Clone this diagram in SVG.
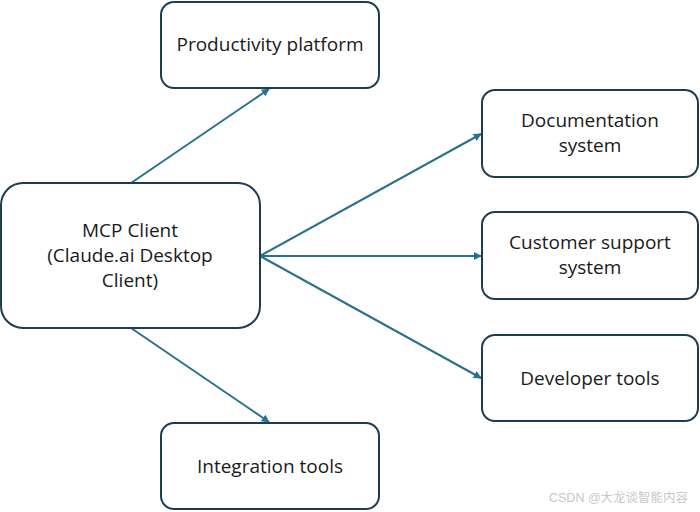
<svg xmlns="http://www.w3.org/2000/svg" width="700" height="512" viewBox="0 0 700 512">
<style>
.box{fill:#fff;stroke:#1e3c52;stroke-width:2}
.lbl{font-family:"Open Sans","Noto Sans",sans-serif;font-size:19px;fill:#1a1a1a;text-anchor:middle}
.edge{stroke:#2a7090;stroke-width:2;fill:none;marker-end:url(#ah)}
.wm{font-family:"Liberation Sans","Noto Sans CJK SC",sans-serif;font-size:12.5px;fill:#c8c8c8}
</style>
<defs>
<marker id="ah" viewBox="0 0 10 10" refX="9" refY="5" markerWidth="4" markerHeight="4" orient="auto" markerUnits="strokeWidth">
<path d="M0,0 L10,5 L0,10 z" fill="#2a7090"/>
</marker>
</defs>
<rect width="700" height="512" fill="#fff"/>
<g id="connectors">
<line class="edge" x1="131" y1="183" x2="269" y2="89"/>
<line class="edge" x1="260" y1="256" x2="481" y2="134"/>
<line class="edge" x1="260" y1="256" x2="481" y2="256"/>
<line class="edge" x1="260" y1="256" x2="481" y2="378"/>
<line class="edge" x1="131" y1="328" x2="269" y2="422"/>
</g>
<g id="productivity">
<rect class="box" x="161" y="2" width="218" height="86" rx="13"/>
<text class="lbl" x="270" y="51">Productivity platform</text>
</g>
<g id="mcp-client">
<rect class="box" x="1" y="183" width="259" height="145" rx="22"/>
<text class="lbl" x="130" y="237">MCP Client</text>
<text class="lbl" x="130" y="262">(Claude.ai Desktop</text>
<text class="lbl" x="130" y="287">Client)</text>
</g>
<g id="documentation">
<rect class="box" x="482" y="90" width="216" height="87" rx="13"/>
<text class="lbl" x="590" y="127">Documentation</text>
<text class="lbl" x="590" y="152">system</text>
</g>
<g id="customer-support">
<rect class="box" x="482" y="212" width="216" height="87" rx="13"/>
<text class="lbl" x="590" y="249">Customer support</text>
<text class="lbl" x="590" y="274">system</text>
</g>
<g id="developer-tools">
<rect class="box" x="482" y="335" width="216" height="86" rx="13"/>
<text class="lbl" x="590" y="385">Developer tools</text>
</g>
<g id="integration-tools">
<rect class="box" x="161" y="423" width="218" height="86" rx="13"/>
<text class="lbl" x="270" y="473">Integration tools</text>
</g>
<text class="wm" x="549" y="502">CSDN @大龙谈智能内容</text>
</svg>
